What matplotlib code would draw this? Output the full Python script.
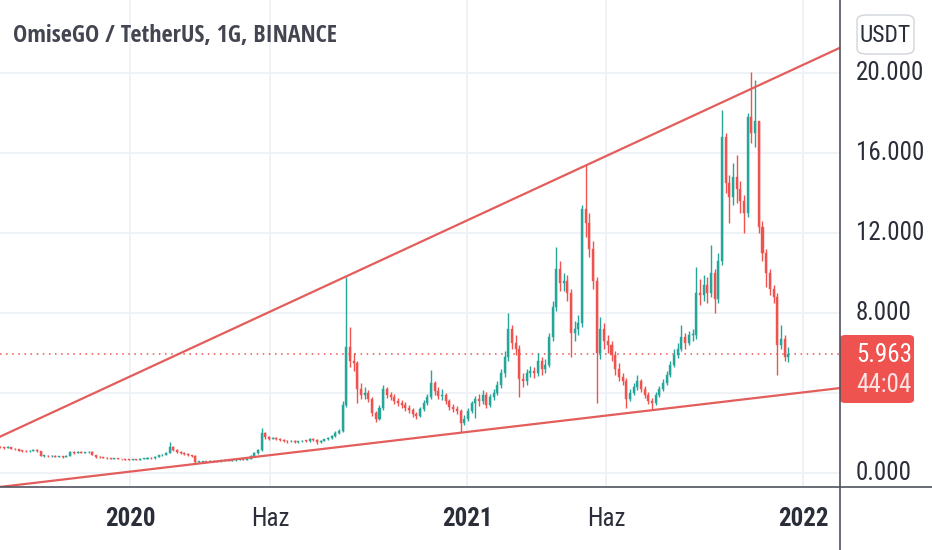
import numpy as np
import matplotlib
matplotlib.use('Agg')
import matplotlib.pyplot as plt
import matplotlib.dates as mdates
from matplotlib.patches import FancyBboxPatch
from datetime import datetime, timedelta

plt.rcParams['font.family'] = ['Roboto Condensed', 'DejaVu Sans']
TITLE_FONT = ['Open Sans Condensed', 'DejaVu Sans']

# 4-day candles, OMG/USDT (Binance)
start_date = datetime(2019, 8, 13)
step_days = 4
first_open = 1.30

closes = [
    1.28, 1.25, 1.30, 1.22, 1.18, 1.12, 1.10, 1.08, 1.12, 1.15,
    1.10, 0.85, 0.85, 0.83, 0.86, 0.82, 0.84, 0.80, 0.85, 1.05,
    1.00, 1.05, 1.02, 1.04, 1.06, 0.90, 0.80, 0.78, 0.76, 0.74,
    0.72, 0.73, 0.70, 0.68, 0.67, 0.66, 0.67, 0.66, 0.70, 0.72,
    0.75, 0.74, 0.82, 0.88, 0.92, 1.00, 1.30, 1.15, 1.05, 1.00,
    0.95, 0.88, 0.85, 0.55, 0.55, 0.58, 0.56, 0.60, 0.58, 0.60,
    0.62, 0.63, 0.62, 0.65, 0.66, 0.68, 0.66, 0.72, 0.85, 1.00,
    1.15, 2.00, 1.80, 1.72, 1.75, 1.70, 1.65, 1.62, 1.58, 1.60,
    1.55, 1.58, 1.62, 1.60, 1.70, 1.65, 1.55, 1.62, 1.68, 1.75,
    1.85, 2.00, 2.10, 3.40, 6.30, 5.60, 5.50, 4.20, 3.90, 4.00,
    3.70, 3.00, 2.70, 3.25, 4.20, 3.90, 3.80, 3.60, 3.50, 3.40,
    3.25, 3.15, 2.95, 2.85, 3.20, 3.50, 3.80, 4.50, 4.10, 3.85,
    3.90, 3.60, 3.30, 3.20, 3.10, 2.50, 2.70, 3.10, 3.50, 3.70,
    3.60, 3.90, 3.40, 3.80, 4.00, 4.40, 5.00, 5.80, 7.20, 6.50,
    6.20, 4.70, 4.60, 5.00, 5.10, 5.00, 5.60, 5.20, 5.40, 6.80,
    8.30, 10.20, 9.50, 9.60, 9.00, 7.00, 7.20, 7.50, 13.20, 12.50,
    11.20, 9.60, 6.00, 7.20, 6.60, 6.40, 5.90, 5.20, 4.80, 4.60,
    3.70, 4.00, 4.30, 4.60, 4.20, 3.90, 3.60, 3.50, 3.90, 4.20,
    4.50, 4.90, 5.40, 5.90, 6.20, 6.80, 6.50, 6.90, 6.90, 9.00,
    8.90, 9.40, 9.00, 10.00, 8.70, 10.60, 16.80, 14.50, 13.80, 14.80,
    14.20, 13.60, 13.00, 17.80, 17.00, 17.60, 12.30, 11.00, 10.00, 9.20,
    8.80, 6.40, 6.70, 5.80, 5.963,
]

highs = [
    1.34, 1.31, 1.33, 1.32, 1.25, 1.20, 1.15, 1.13, 1.15, 1.19,
    1.18, 1.12, 0.90, 0.88, 0.89, 0.88, 0.87, 0.86, 0.88, 1.10,
    1.12, 1.08, 1.08, 1.07, 1.12, 1.08, 0.92, 0.83, 0.81, 0.79,
    0.77, 0.76, 0.75, 0.72, 0.71, 0.70, 0.70, 0.69, 0.73, 0.76,
    0.78, 0.78, 0.85, 0.92, 0.97, 1.05, 1.55, 1.35, 1.18, 1.08,
    1.03, 0.98, 0.92, 0.88, 0.62, 0.62, 0.62, 0.63, 0.63, 0.63,
    0.65, 0.66, 0.66, 0.68, 0.69, 0.71, 0.70, 0.75, 0.88, 1.05,
    1.22, 2.25, 2.05, 1.85, 1.80, 1.78, 1.74, 1.70, 1.66, 1.65,
    1.64, 1.62, 1.66, 1.67, 1.75, 1.74, 1.68, 1.66, 1.72, 1.80,
    1.90, 2.08, 2.20, 3.60, 9.80, 7.30, 6.00, 5.60, 4.50, 4.30,
    4.15, 3.80, 3.10, 3.40, 4.40, 4.30, 4.05, 3.95, 3.75, 3.65,
    3.55, 3.40, 3.25, 3.05, 3.30, 3.65, 3.95, 5.15, 4.60, 4.30,
    4.20, 4.00, 3.70, 3.45, 3.35, 3.20, 2.90, 3.25, 3.60, 3.85,
    3.95, 4.15, 4.05, 3.95, 4.20, 4.60, 5.20, 6.10, 8.00, 7.40,
    6.90, 6.40, 5.00, 5.20, 5.35, 5.30, 6.00, 5.80, 5.70, 7.00,
    8.60, 11.30, 10.60, 10.00, 9.90, 9.20, 7.60, 7.90, 13.40, 15.40,
    13.00, 11.60, 9.80, 7.80, 7.50, 6.90, 6.60, 6.10, 5.50, 5.00,
    4.75, 4.20, 4.50, 4.90, 4.70, 4.35, 4.05, 3.75, 4.05, 4.35,
    4.70, 5.10, 5.60, 6.20, 6.50, 7.40, 7.00, 7.10, 7.20, 10.30,
    9.70, 9.90, 9.80, 11.40, 10.20, 11.00, 18.15, 17.00, 14.90, 15.50,
    15.90, 14.60, 13.90, 18.00, 20.05, 19.65, 17.60, 12.60, 11.20, 10.20,
    9.40, 9.00, 7.40, 6.90, 6.30,
]

lows = [
    1.25, 1.22, 1.23, 1.19, 1.15, 1.09, 1.07, 1.05, 1.06, 1.10,
    1.07, 0.83, 0.81, 0.80, 0.81, 0.79, 0.80, 0.77, 0.78, 0.84,
    0.97, 0.98, 0.99, 1.00, 1.02, 0.88, 0.77, 0.75, 0.73, 0.71,
    0.69, 0.70, 0.68, 0.65, 0.64, 0.63, 0.64, 0.63, 0.64, 0.68,
    0.70, 0.71, 0.72, 0.80, 0.86, 0.90, 0.98, 1.12, 1.02, 0.97,
    0.92, 0.85, 0.82, 0.45, 0.50, 0.52, 0.53, 0.54, 0.55, 0.56,
    0.57, 0.59, 0.59, 0.60, 0.62, 0.63, 0.63, 0.64, 0.70, 0.82,
    0.97, 1.12, 1.72, 1.66, 1.68, 1.65, 1.60, 1.57, 1.52, 1.54,
    1.50, 1.52, 1.55, 1.56, 1.57, 1.60, 1.45, 1.52, 1.58, 1.64,
    1.70, 1.80, 1.95, 2.05, 3.30, 5.30, 5.10, 3.50, 3.70, 3.70,
    3.55, 2.85, 2.55, 2.65, 3.15, 3.75, 3.65, 3.45, 3.35, 3.25,
    3.10, 3.00, 2.80, 2.70, 2.78, 3.10, 3.40, 3.70, 3.90, 3.70,
    3.65, 3.45, 3.15, 3.05, 2.95, 2.05, 2.40, 2.60, 3.00, 2.75,
    3.35, 3.45, 3.25, 3.30, 3.65, 3.90, 4.25, 4.80, 5.60, 6.20,
    5.90, 3.80, 4.30, 4.40, 4.80, 4.75, 4.85, 4.90, 5.00, 5.30,
    6.60, 8.10, 9.10, 9.10, 8.60, 5.80, 6.60, 6.90, 7.30, 11.80,
    10.80, 9.20, 3.50, 5.70, 6.20, 6.00, 5.60, 4.90, 4.60, 4.40,
    3.25, 3.60, 3.90, 4.15, 4.05, 3.75, 3.45, 3.15, 3.40, 3.80,
    4.10, 4.40, 4.80, 5.30, 5.75, 6.10, 6.20, 6.40, 6.60, 6.70,
    8.40, 8.60, 8.50, 8.80, 8.00, 8.50, 10.40, 14.00, 12.50, 13.40,
    13.50, 13.00, 12.00, 12.80, 16.50, 16.30, 12.00, 10.60, 9.30, 8.90,
    8.50, 4.90, 6.20, 5.60, 5.55,
]

last_price = '5.963'
countdown = '44:04'

# trend lines (two anchor points each: date, price)
upper_line = [(datetime(2020, 8, 20), 9.77), (datetime(2021, 11, 4), 19.17)]
lower_line = [(datetime(2020, 3, 17), 0.48), (datetime(2021, 7, 19), 3.13)]

y_ticks = [0, 4, 8, 12, 16, 20]
y_tick_labels = ['0.000', '4.000', '8.000', '12.000', '16.000', '20.000']
x_ticks = [datetime(2020, 1, 1), datetime(2020, 6, 1), datetime(2021, 1, 1),
           datetime(2021, 6, 1), datetime(2022, 1, 1)]
x_tick_labels = ['2020', 'Haz', '2021', 'Haz', '2022']
x_tick_bold = [True, False, True, False, True]

GREEN = '#26a69a'
RED = '#ef5350'
LINE = '#e35d5b'
TEXT = '#2a2e39'
GRID = '#eef1f6'

W, H = 932, 550
fig = plt.figure(figsize=(W / 100, H / 100), dpi=100)
fig.patch.set_facecolor('white')

# plot area: x 0..840 px, y 0..487 px
ax = fig.add_axes([0, 1 - 487 / H, 840 / W, 487 / H])
ax.set_facecolor('white')
for s in ax.spines.values():
    s.set_visible(False)

opens = [first_open] + closes[:-1]
dates = [start_date + timedelta(days=step_days * i) for i in range(len(closes))]
xd = mdates.date2num(dates)
o = np.array(opens)
c = np.array(closes)
h = np.array(highs)
l = np.array(lows)
up = c >= o
cols = np.where(up, GREEN, RED)

ax.vlines(xd, l, h, colors=cols, linewidth=1.0, zorder=3)
body_bottom = np.minimum(o, c)
body_height = np.maximum(np.abs(c - o), 0.03)
ax.bar(xd, body_height, bottom=body_bottom, width=step_days * 0.55,
       color=cols, edgecolor=cols, linewidth=0.3, zorder=3)

# x scale: 2020-01-01 at px 130, 2022-01-01 at px 803
x0 = mdates.date2num(datetime(2020, 1, 1))
x1 = mdates.date2num(datetime(2022, 1, 1))
ppd = (803 - 130) / (x1 - x0)
ax.set_xlim(x0 - 130 / ppd, x0 + (840 - 130) / ppd)
# y scale: 0 at px 473, 20 at px 73
ppu = (473 - 73) / 20
ax.set_ylim(-(487 - 473) / ppu, 473 / ppu)

ax.set_xticks(mdates.date2num(x_ticks))
ax.set_yticks(y_ticks)
ax.tick_params(left=False, bottom=False, labelleft=False, labelbottom=False)
ax.grid(True, color=GRID, linewidth=1.3, zorder=0)
ax.set_axisbelow(True)

for pts in (upper_line, lower_line):
    (d1, p1), (d2, p2) = pts
    ax.axline((mdates.date2num(d1), p1), (mdates.date2num(d2), p2),
              color=LINE, linewidth=1.6, zorder=4)

ax.axhline(float(last_price), color=RED, linewidth=1.1,
           linestyle=(0, (1, 3)), zorder=2)


def fx(px):
    return px / W


def fy(py):
    return 1 - py / H


# axis border lines
fig.add_artist(plt.Line2D([fx(840), fx(840)], [0, 1], color='#50535e', linewidth=1.2))
fig.add_artist(plt.Line2D([0, 1], [fy(487), fy(487)], color='#50535e', linewidth=1.2))

# title
fig.text(fx(13), fy(36), 'OmiseGO / TetherUS, 1G, BINANCE', ha='left', va='center',
         fontsize=17.3, color='#434651', fontweight='bold', family=TITLE_FONT)

# price scale labels
for v, lab in zip(y_ticks, y_tick_labels):
    if v == 4:
        continue  # hidden behind the price label
    fig.text(fx(856), fy(473 - v * ppu), lab, ha='left', va='center',
             fontsize=18, color=TEXT)

# time scale labels
for d, lab, b in zip(x_ticks, x_tick_labels, x_tick_bold):
    px = 130 + (mdates.date2num(d) - x0) * ppd
    fig.text(fx(px), fy(519), lab, ha='center', va='center', fontsize=18,
             color=TEXT, fontweight='bold' if b else 'normal')

# USDT box
fig.add_artist(FancyBboxPatch((fx(857), fy(54)), fx(914) - fx(857), fy(15) - fy(54),
                              boxstyle='round,pad=0,rounding_size=0.01',
                              facecolor='white', edgecolor='#d1d4dc', linewidth=1.0,
                              transform=fig.transFigure))
fig.text(fx(885.5), fy(35), 'USDT', ha='center', va='center', fontsize=17, color=TEXT)

# last price label
fig.add_artist(FancyBboxPatch((fx(840), fy(403)), fx(914) - fx(840), fy(335) - fy(403),
                              boxstyle='round,pad=0,rounding_size=0.006',
                              facecolor=RED, edgecolor=RED, linewidth=0,
                              transform=fig.transFigure))
fig.text(fx(856), fy(355), last_price, ha='left', va='center', fontsize=18, color='white')
fig.text(fx(856), fy(385), countdown, ha='left', va='center', fontsize=18, color='#fde4e4')

fig.savefig('out.png', dpi=100)
